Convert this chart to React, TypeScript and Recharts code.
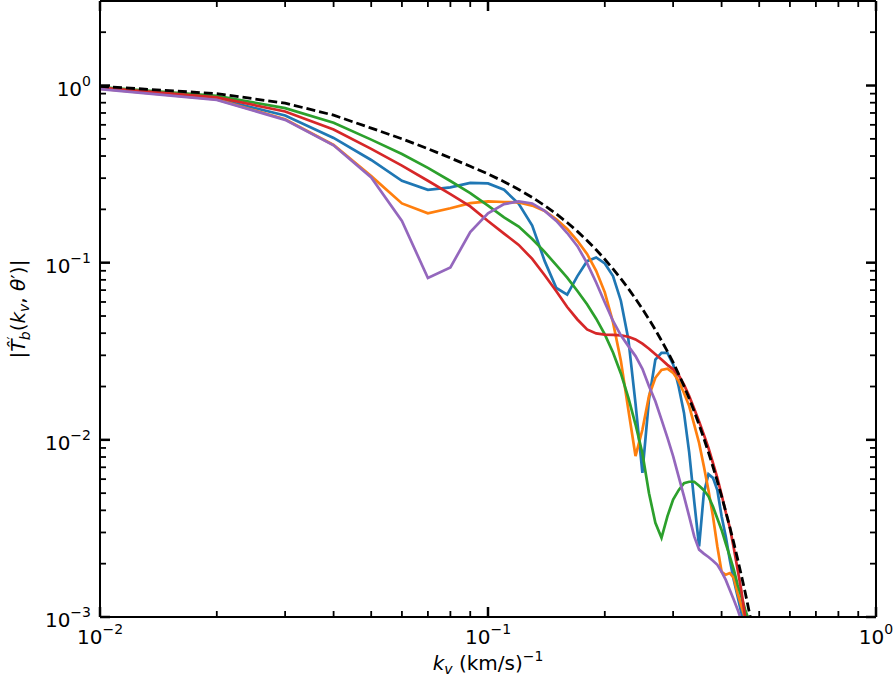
import React from 'react'
import { LineChart, Line, XAxis, YAxis } from 'recharts'

// k_v grid, (km/s)^-1
const kv = [
  0.01, 0.02, 0.03, 0.04, 0.05, 0.06, 0.07, 0.08, 0.09, 0.1,
  0.11, 0.12, 0.13, 0.14, 0.15, 0.16, 0.17, 0.18, 0.19, 0.2,
  0.21, 0.22, 0.23, 0.24, 0.25, 0.26, 0.27, 0.28, 0.29, 0.3,
  0.31, 0.32, 0.33, 0.34, 0.35, 0.36, 0.37, 0.38, 0.39, 0.4,
  0.41, 0.42, 0.43, 0.44, 0.45, 0.46, 0.47, 0.48,
]

const blueVals = [
  0.97, 0.84, 0.677, 0.506, 0.38, 0.29, 0.258, 0.266, 0.282, 0.28,
  0.258, 0.215, 0.162, 0.102, 0.072, 0.066, 0.084, 0.102, 0.107, 0.099,
  0.084, 0.061, 0.037, 0.016, 0.0065, 0.017, 0.0284, 0.031, 0.031, 0.0267,
  0.02, 0.0142, 0.0085, 0.0045, 0.0025, 0.005, 0.0064, 0.0061, 0.0052, 0.0037,
  0.00285, 0.0021, 0.00162, 0.0013, 0.00105, 0.0008, 0.0006, 0.0005,
]

const orangeVals = [
  0.96, 0.835, 0.645, 0.462, 0.308, 0.216, 0.19, 0.203, 0.217, 0.222,
  0.22, 0.219, 0.21, 0.196, 0.176, 0.155, 0.133, 0.112, 0.09, 0.068,
  0.046, 0.028, 0.0148, 0.0081, 0.0114, 0.0177, 0.0224, 0.0248, 0.0252, 0.0239,
  0.0215, 0.0184, 0.0155, 0.0122, 0.0096, 0.0071, 0.0052, 0.0037, 0.0025, 0.0018,
  0.00173, 0.00177, 0.00166, 0.00136, 0.00115, 0.00098, 0.00085, 0.0007,
]

const greenVals = [
  0.98, 0.875, 0.745, 0.616, 0.495, 0.411, 0.343, 0.289, 0.247, 0.21,
  0.18, 0.16, 0.136, 0.115, 0.0968, 0.0824, 0.0692, 0.0582, 0.0483, 0.0394,
  0.0311, 0.0237, 0.0173, 0.0122, 0.0084, 0.005, 0.0034, 0.0028, 0.0037, 0.0046,
  0.0052, 0.0057, 0.0058, 0.0058, 0.0055, 0.0052, 0.0048, 0.0042, 0.0036, 0.0031,
  0.0026, 0.0022, 0.00185, 0.00152, 0.0013, 0.0011, 0.00096, 0.0008,
]

const redVals = [
  0.975, 0.858, 0.713, 0.564, 0.439, 0.353, 0.29, 0.244, 0.208, 0.172,
  0.146, 0.126, 0.105, 0.085, 0.069, 0.0562, 0.0478, 0.042, 0.0399, 0.0393,
  0.0391, 0.0389, 0.0382, 0.0369, 0.0349, 0.0327, 0.0304, 0.0284, 0.0265, 0.025,
  0.0232, 0.0205, 0.0177, 0.015, 0.0127, 0.0107, 0.009, 0.0074, 0.0061, 0.0049,
  0.0039, 0.0032, 0.00245, 0.00185, 0.0014, 0.001, 0.0008, 0.0006,
]

const purpleVals = [
  0.955, 0.83, 0.64, 0.46, 0.303, 0.172, 0.082, 0.094, 0.149, 0.19,
  0.214, 0.222, 0.216, 0.196, 0.172, 0.147, 0.124, 0.0994, 0.0773, 0.0596,
  0.0469, 0.0389, 0.0338, 0.0297, 0.0252, 0.0201, 0.0165, 0.013, 0.0103, 0.0081,
  0.0062, 0.0048, 0.0037, 0.00285, 0.0024, 0.00228, 0.00218, 0.00208, 0.00197, 0.0018,
  0.00162, 0.00142, 0.00125, 0.0011, 0.00095, 0.0008, 0.0007, 0.0006,
]

// black dashed envelope
const envelopeVals = [
  0.99, 0.9, 0.795, 0.68, 0.575, 0.5, 0.44, 0.39, 0.35, 0.317,
  0.2865, 0.259, 0.2336, 0.2101, 0.1884, 0.1685, 0.1502, 0.1335, 0.1182, 0.1045,
  0.0922, 0.0812, 0.0714, 0.0626, 0.0548, 0.0479, 0.0418, 0.0363, 0.0316, 0.0274,
  0.0235, 0.0201, 0.0171, 0.01448, 0.01217, 0.0102, 0.0085, 0.00705, 0.00583, 0.0048,
  0.00394, 0.00322, 0.00262, 0.00212, 0.00171, 0.00138, 0.0011, 0.00088,
]

const xTicks = [
  0.01, 0.02, 0.03, 0.04, 0.05, 0.06, 0.07, 0.08, 0.09,
  0.1, 0.2, 0.3, 0.4, 0.5, 0.6, 0.7, 0.8, 0.9, 1,
]
const yTicks = [
  0.001, 0.002, 0.003, 0.004, 0.005, 0.006, 0.007, 0.008, 0.009,
  0.01, 0.02, 0.03, 0.04, 0.05, 0.06, 0.07, 0.08, 0.09,
  0.1, 0.2, 0.3, 0.4, 0.5, 0.6, 0.7, 0.8, 0.9, 1, 2, 3,
]

const data = kv.map((k, i) => ({
  k,
  blue: blueVals[i],
  orange: orangeVals[i],
  green: greenVals[i],
  red: redVals[i],
  purple: purpleVals[i],
  envelope: envelopeVals[i],
}))

const FONT = 'DejaVu Sans, sans-serif'
const MAJOR_LEN = 10
const MINOR_LEN = 6
const LW = 2.7

function isMajor(v: number) {
  const l = Math.log10(v)
  return Math.abs(l - Math.round(l)) < 1e-6
}

function expText(v: number) {
  const e = Math.round(Math.log10(v))
  return e < 0 ? `\u2212${-e}` : `${e}`
}

function Pow({ v, ...rest }: any) {
  return (
    <text {...rest} fontSize={20} fontFamily={FONT} fill="#000">
      10
      <tspan fontSize={14} dy={-10}>
        {expText(v)}
      </tspan>
    </text>
  )
}

function BottomTick({ x, y, payload }: any) {
  const major = isMajor(payload.value)
  return (
    <g>
      <line x1={x} x2={x} y1={y} y2={y - (major ? MAJOR_LEN : MINOR_LEN)} stroke="#000" strokeWidth={major ? 2.5 : 1.8} />
      {major && <Pow v={payload.value} x={x} y={y + 27} textAnchor="middle" />}
    </g>
  )
}

function TopTick({ x, y, payload }: any) {
  const major = isMajor(payload.value)
  return <line x1={x} x2={x} y1={y} y2={y + (major ? MAJOR_LEN : MINOR_LEN)} stroke="#000" strokeWidth={major ? 2.5 : 1.8} />
}

function LeftTick({ x, y, payload }: any) {
  const major = isMajor(payload.value)
  return (
    <g>
      <line x1={x} x2={x + (major ? MAJOR_LEN : MINOR_LEN)} y1={y} y2={y} stroke="#000" strokeWidth={major ? 2.5 : 1.8} />
      {major && <Pow v={payload.value} x={x - 9} y={y + 10} textAnchor="end" />}
    </g>
  )
}

function RightTick({ x, y, payload }: any) {
  const major = isMajor(payload.value)
  return <line x1={x} x2={x - (major ? MAJOR_LEN : MINOR_LEN)} y1={y} y2={y} stroke="#000" strokeWidth={major ? 2.5 : 1.8} />
}

function XLabel({ viewBox }: any) {
  const cx = viewBox.x + viewBox.width / 2
  return (
    <text x={cx} y={viewBox.y + 53} textAnchor="middle" fontSize={20} fontFamily={FONT} fill="#000" style={{ whiteSpace: 'pre' }}>
      <tspan fontStyle="italic">k</tspan>
      <tspan fontStyle="italic" fontSize={14} dy={4}>v</tspan>
      <tspan dy={-4}> (km/s)</tspan>
      <tspan fontSize={14} dy={-9}>{'\u22121'}</tspan>
    </text>
  )
}

function YLabel({ viewBox }: any) {
  const cy = viewBox.y + viewBox.height / 2
  return (
    <text
      transform={`translate(25, ${cy}) rotate(-90)`}
      textAnchor="middle"
      fontSize={20}
      fontFamily={FONT}
      fill="#000"
      style={{ whiteSpace: 'pre' }}
    >
      |<tspan fontStyle="italic">{'T\u0302'}</tspan>
      <tspan fontSize={14} dy={-8}>{'\u2032'}</tspan>
      <tspan fontSize={14} fontStyle="italic" dx={-4} dy={13}>b</tspan>
      <tspan dy={-5}>(</tspan>
      <tspan fontStyle="italic">k</tspan>
      <tspan fontSize={14} fontStyle="italic" dy={4}>v</tspan>
      <tspan dy={-4}>, </tspan>
      <tspan fontStyle="italic">{'\u03b8'}</tspan>
      <tspan>{'\u2032)|'}</tspan>
    </text>
  )
}

const axisLine = { stroke: '#000', strokeWidth: 2 }

export default function App() {
  return (
    <div style={{ position: 'absolute', left: 0, top: 0, background: '#fff' }}>
      <LineChart width={896} height={685} data={data} margin={{ top: 0, right: 0, bottom: 0, left: 0 }}>
        <XAxis
          xAxisId="bottom"
          dataKey="k"
          type="number"
          scale="log"
          domain={[0.01, 1]}
          allowDataOverflow
          ticks={xTicks}
          interval={0}
          height={68}
          tickSize={0}
          tickMargin={0}
          tickLine={false}
          axisLine={axisLine}
          tick={BottomTick}
          label={XLabel}
        />
        <XAxis
          xAxisId="top"
          orientation="top"
          dataKey="k"
          type="number"
          scale="log"
          domain={[0.01, 1]}
          allowDataOverflow
          ticks={xTicks}
          interval={0}
          height={1}
          tickSize={0}
          tickMargin={0}
          tickLine={false}
          axisLine={axisLine}
          tick={TopTick}
        />
        <YAxis
          yAxisId="left"
          type="number"
          scale="log"
          domain={[0.001, 3]}
          allowDataOverflow
          ticks={yTicks}
          interval={0}
          width={100}
          tickSize={0}
          tickMargin={0}
          tickLine={false}
          axisLine={axisLine}
          tick={LeftTick}
          label={YLabel}
        />
        <YAxis
          yAxisId="right"
          orientation="right"
          type="number"
          scale="log"
          domain={[0.001, 3]}
          allowDataOverflow
          ticks={yTicks}
          interval={0}
          width={20}
          tickSize={0}
          tickMargin={0}
          tickLine={false}
          axisLine={axisLine}
          tick={RightTick}
        />
        <Line xAxisId="bottom" yAxisId="left" dataKey="blue" stroke="#1f77b4" strokeWidth={LW} dot={false} isAnimationActive={false} />
        <Line xAxisId="bottom" yAxisId="left" dataKey="orange" stroke="#ff7f0e" strokeWidth={LW} dot={false} isAnimationActive={false} />
        <Line xAxisId="bottom" yAxisId="left" dataKey="green" stroke="#2ca02c" strokeWidth={LW} dot={false} isAnimationActive={false} />
        <Line xAxisId="bottom" yAxisId="left" dataKey="red" stroke="#d62728" strokeWidth={LW} dot={false} isAnimationActive={false} />
        <Line xAxisId="bottom" yAxisId="left" dataKey="purple" stroke="#9467bd" strokeWidth={LW} dot={false} isAnimationActive={false} />
        <Line
          xAxisId="bottom"
          yAxisId="left"
          dataKey="envelope"
          stroke="#000"
          strokeWidth={2.8}
          strokeDasharray="9 4"
          dot={false}
          isAnimationActive={false}
        />
      </LineChart>
    </div>
  )
}
